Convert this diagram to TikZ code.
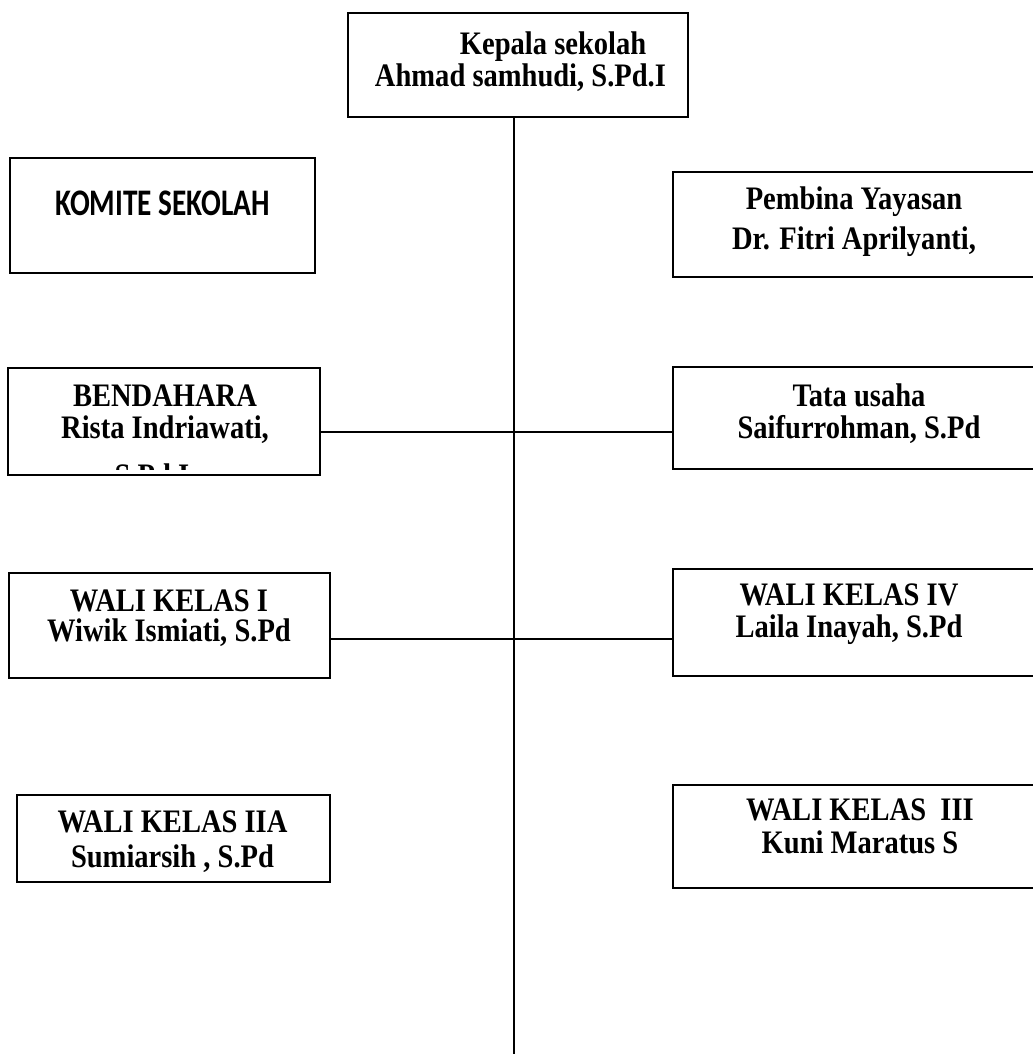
\documentclass[tikz,border=0pt]{standalone}
\usepackage{fontspec}
\setmainfont{Liberation Serif}[FakeStretch=0.87]
\newfontfamily\komitefont{Carlito}[FakeStretch=0.78]
\begin{document}
\begin{tikzpicture}[x=1pt,y=-1pt,
  font=\fontsize{32.8}{32}\selectfont\bfseries,
  frame/.style={rectangle,draw=black,line width=2.5pt,inner sep=0pt},
  leftbox/.style={frame,minimum height=#1},
  rightbox/.style={frame,minimum width=363pt,minimum height=#1},
  caption/.style={align=center,inner sep=0pt},
  link/.style={line width=1.9pt,draw=black}
]
\useasboundingbox (0,0) rectangle (1033,1055);
% Boxes; the right column runs past the page edge, as in the scan.
\node[frame,minimum width=340pt,minimum height=104pt] (kepala) at (518,65) {};
\node[leftbox=115pt,minimum width=305pt] (komite) at (162.5,215.5) {};
\node[rightbox=105pt] (pembina) at (854.5,224.5) {};
\node[leftbox=107pt,minimum width=312pt] (bendahara) at (164,421.5) {};
\node[rightbox=102pt] (tatausaha) at (854.5,418) {};
\node[leftbox=105pt,minimum width=321pt] (walisatu) at (169.5,625.5) {};
\node[rightbox=107pt] (waliempat) at (854.5,622.5) {};
\node[leftbox=87pt,minimum width=313pt] (walidua) at (173.5,838.5) {};
\node[rightbox=103pt] (walitiga) at (854.5,836.5) {};

% Texts
\node[caption,align=left] (kepala-text) at (520.5,62) {\hspace*{85pt}Kepala sekolah\\Ahmad samhudi, S.Pd.I};
\node[caption] (komite-text) at (162.5,203) {\komitefont\fontsize{37.5}{40}\selectfont KOMITE SEKOLAH};
\node[caption] (pembina-text) at (854,222) {Pembina Yayasan\\[8pt]Dr. Fitri Aprilyanti,};
\node[caption] (bendahara-text) at (165,414.5) {BENDAHARA\\Rista Indriawati,};
\node[caption] (tatausaha-text) at (859,414) {Tata usaha\\Saifurrohman, S.Pd};
\node[caption] (walisatu-text) at (169,618) {WALI KELAS I\\[-2pt]Wiwik Ismiati, S.Pd};
\node[caption] (waliempat-text) at (849,614) {WALI KELAS IV\\Laila Inayah, S.Pd};
\node[caption] (walidua-text) at (172.5,841.5) {WALI KELAS IIA\\[3pt]Sumiarsih , S.Pd};
\node[caption] (walitiga-text) at (860,826.5) {WALI KELAS\ \ III\\[1pt]Kuni Maratus S};
% the third line of BENDAHARA is cut off by its box
\begin{scope}
  \clip (bendahara.north west) rectangle ([yshift=7pt]bendahara.south east);
  \node[caption] (bendahara-gelar) at (152,475) {S.Pd.I};
\end{scope}

% Connectors
\coordinate (spine) at (514,1054);
\coordinate (rowA) at (514,432);
\coordinate (rowB) at (514,639);
\draw[link] (kepala.south -| spine) -- (spine);
\draw[link] (bendahara.east |- rowA) -- (tatausaha.west |- rowA);
\draw[link] (walisatu.east |- rowB) -- (waliempat.west |- rowB);
\end{tikzpicture}
\end{document}
